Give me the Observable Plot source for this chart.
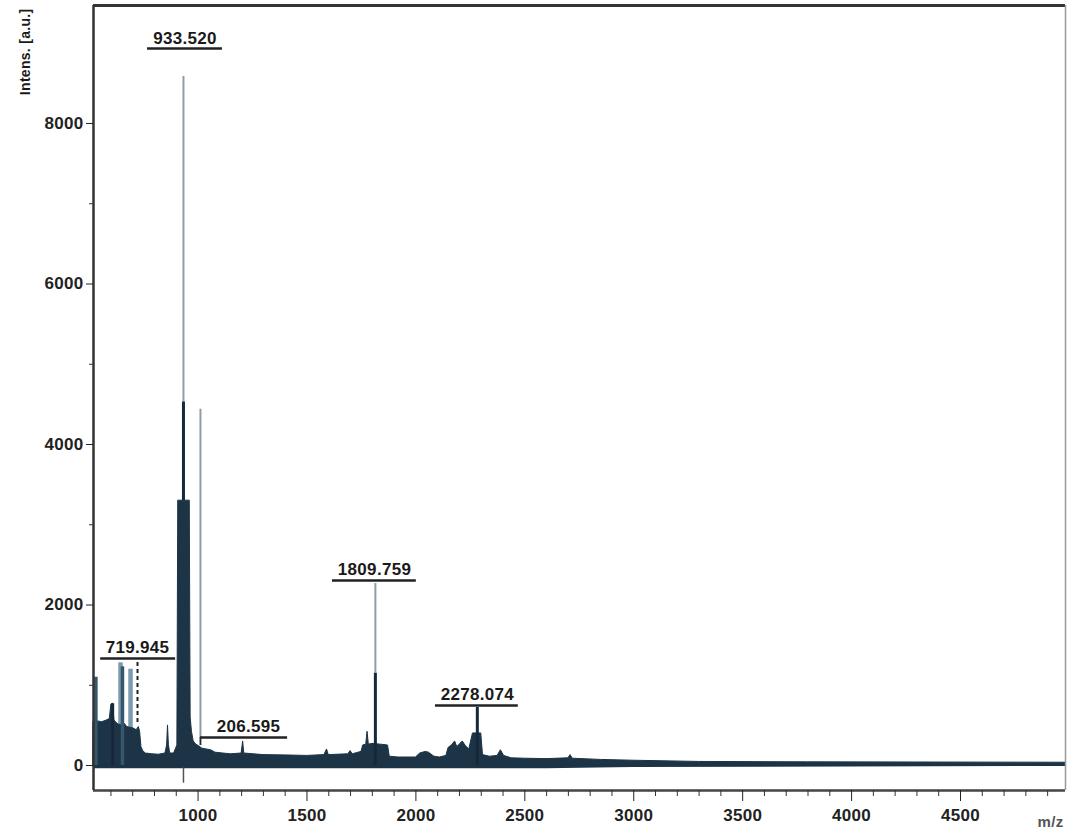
<!DOCTYPE html>
<html>
<head>
<meta charset="utf-8">
<script src="https://cdn.jsdelivr.net/npm/d3@7"></script>
<script src="https://cdn.jsdelivr.net/npm/@observablehq/plot@0.6"></script>
<style>
  html, body { margin: 0; padding: 0; background: #fff; }
  #chart svg text { letter-spacing: 0.3px; }
</style>
</head>
<body>
<div id="chart"></div>
<script>
// ---- spectrum profile (m/z, intensity) ----
const specMz = [520, 528, 540, 560, 580, 595, 602, 610, 616, 630, 645, 660, 675, 690, 705, 718, 728, 734, 740, 748,
  760, 790, 820, 850, 858, 862, 866, 872, 890, 905, 909, 962, 966, 972, 980, 992, 1005, 1020, 1060, 1080,
  1150, 1200, 1207, 1212, 1300, 1420, 1500, 1580, 1592, 1600, 1690, 1700, 1710, 1750, 1758, 1772, 1778, 1784, 1800, 1840,
  1872, 1880, 1920, 2000, 2020, 2045, 2060, 2085, 2110, 2140, 2150, 2165, 2180, 2190, 2205, 2215, 2230, 2245, 2262, 2300,
  2308, 2340, 2375, 2390, 2405, 2440, 2500, 2600, 2700, 2710, 2720, 2850, 3000, 3300, 3800, 4300, 4982];
const specInt = [540, 580, 550, 540, 560, 580, 760, 770, 560, 520, 500, 530, 480, 470, 460, 440, 480, 420, 230, 180,
  150, 140, 135, 150, 250, 500, 260, 150, 150, 250, 3300, 3300, 600, 420, 300, 260, 240, 210, 190, 160,
  140, 150, 300, 150, 130, 125, 120, 130, 200, 130, 140, 180, 140, 170, 250, 260, 420, 260, 270, 260,
  250, 110, 100, 100, 150, 170, 160, 110, 100, 120, 220, 250, 300, 230, 270, 300, 240, 200, 400, 400,
  130, 110, 120, 190, 120, 90, 85, 80, 90, 130, 85, 70, 60, 45, 40, 38, 35];

// lower edge of the baseline band
const baseMz = [520, 2600, 3000, 4982];
const baseLo = [-40, -40, -25, -12];

// narrow peaks drawn as sticks
const stickMz   = [531, 608, 644, 653, 690, 933, 933, 1011, 1011, 1814, 1814, 2282];
const stickFrom = [0, 0, 0, 0, 0, 3300, 4530, 250, 250, 0, 1150, 0];
const stickTo   = [1100, 770, 1280, 1230, 1200, 4530, 8586, 4440, 349, 1150, 2268, 723];
const stickKind = ["shade", "core", "haze", "shade", "haze", "core", "ghost", "ghost", "thin", "core", "ghost", "core"];

// dashed marker of 719.945
const dashMz = [722];
const dashFrom = [536];
const dashTo = [1308];

// small marker below the baseline
const markMz = [933];

// peak annotations
const labelText = ["933.520", "719.945", "206.595", "1809.759", "2278.074"];
const labelMz   = [940, 722, 1232, 1810, 2282];
const labelInt  = [9060, 1470, 486, 2445, 885];
const lineFrom  = [768, 553, 1011, 1617, 2090];
const lineTo    = [1112, 897, 1411, 2002, 2470];
const lineInt   = [8935, 1333, 349, 2305, 748];

// axes
const xMajor = [1000, 1500, 2000, 2500, 3000, 3500, 4000, 4500];
const xMinor = [600, 700, 800, 900, 1100, 1200, 1300, 1400, 1600, 1700, 1800, 1900, 2100, 2200, 2300, 2400,
  2600, 2700, 2800, 2900, 3100, 3200, 3300, 3400, 3600, 3700, 3800, 3900, 4100, 4200, 4300, 4400, 4600, 4700, 4800, 4900];
const yMajor = [0, 2000, 4000, 6000, 8000];
const yMinor = [1000, 3000, 5000, 7000];
const xDomain = [520, 4982];
const yDomain = [-311, 9470];

// ---- build tables ----
const spectrum = specMz.map((m, i) => ({mz: m, v: specInt[i]}));
const base = baseMz.map((m, i) => ({mz: m, lo: baseLo[i]}));
const sticks = stickMz.map((m, i) => ({mz: m, a: stickFrom[i], b: stickTo[i], kind: stickKind[i]}));
const dashes = dashMz.map((m, i) => ({mz: m, a: dashFrom[i], b: dashTo[i]}));
const labels = labelText.map((t, i) => ({t, mz: labelMz[i], v: labelInt[i], x1: lineFrom[i], x2: lineTo[i], u: lineInt[i]}));

const dark = "#1c3446";
const kindColor = {core: "#15293a", shade: "#35566b", haze: "#7b9bb0", ghost: "#8d9ea9", thin: "#2a2a2a"};
const kindWidth = {core: 3, shade: 3.5, haze: 4.5, ghost: 2, thin: 1.5};
const back = new Set(["ghost", "haze"]);

const font = "'Liberation Sans', Arial, sans-serif";

const chart = Plot.plot({
  width: 1067,
  height: 835,
  marginLeft: 93,
  marginRight: 2,
  marginTop: 5,
  marginBottom: 45,
  style: {fontFamily: font, background: "#fff", color: "#1a1a1a"},
  x: {domain: xDomain},
  y: {domain: yDomain},
  marks: [
    // light sticks behind the profile
    Plot.ruleX(sticks.filter(d => back.has(d.kind)), {x: "mz", y1: "a", y2: "b", stroke: d => kindColor[d.kind], strokeWidth: d => kindWidth[d.kind]}),
    // baseline band and spectrum profile
    Plot.areaY(base, {x: "mz", y1: "lo", y2: 0, fill: dark}),
    Plot.areaY(spectrum, {x: "mz", y1: 0, y2: "v", fill: dark, stroke: dark, strokeWidth: 1}),
    // dark sticks
    Plot.ruleX(sticks.filter(d => !back.has(d.kind)), {x: "mz", y1: "a", y2: "b", stroke: d => kindColor[d.kind], strokeWidth: d => kindWidth[d.kind]}),
    Plot.ruleX(dashes, {x: "mz", y1: "a", y2: "b", stroke: "#222", strokeWidth: 2, strokeDasharray: "4,3"}),
    Plot.ruleX(markMz, {x: d => d, y1: -30, y2: -220, stroke: "#555", strokeWidth: 1.5}),
    // annotations
    Plot.ruleY(labels, {y: "u", x1: "x1", x2: "x2", stroke: "#222", strokeWidth: 2.5}),
    Plot.text(labels, {x: "mz", y: "v", text: "t", fontSize: 17, fontWeight: "bold", fill: "#1a1a1a"}),
    // frame
    Plot.ruleY([yDomain[1]], {stroke: "#333", strokeWidth: 3}),
    Plot.ruleY([yDomain[0]], {stroke: "#444", strokeWidth: 2.5}),
    Plot.ruleX([xDomain[0]], {stroke: "#333", strokeWidth: 2.5}),
    Plot.ruleX([xDomain[1]], {stroke: "#999", strokeWidth: 1.5}),
    // axes
    Plot.axisX(xMinor, {tickSize: 6, tickFormat: () => "", color: "#333", label: null}),
    Plot.axisX(xMajor, {tickSize: 11, tickPadding: 7, tickFormat: d => String(d), fontSize: 17, fontWeight: "bold", color: "#222", label: null}),
    Plot.axisY(yMinor, {tickSize: 4, tickFormat: () => "", color: "#333", label: null}),
    Plot.axisY(yMajor, {tickSize: 7, tickPadding: 3, tickFormat: d => String(d), fontSize: 17, fontWeight: "bold", color: "#222", label: null}),
    // axis titles
    Plot.text(["Intens. [a.u.]"], {text: d => d, frameAnchor: "top-left", dx: -73, dy: 3, rotate: -90, textAnchor: "end", fontSize: 14, fontWeight: "bold", fill: "#1a1a1a"}),
    Plot.text(["m/z"], {text: d => d, frameAnchor: "bottom-right", dx: -2, dy: 36, textAnchor: "end", fontSize: 15, fontWeight: "bold", fill: "#555"})
  ]
});
document.getElementById("chart").appendChild(chart);
</script>
</body>
</html>
